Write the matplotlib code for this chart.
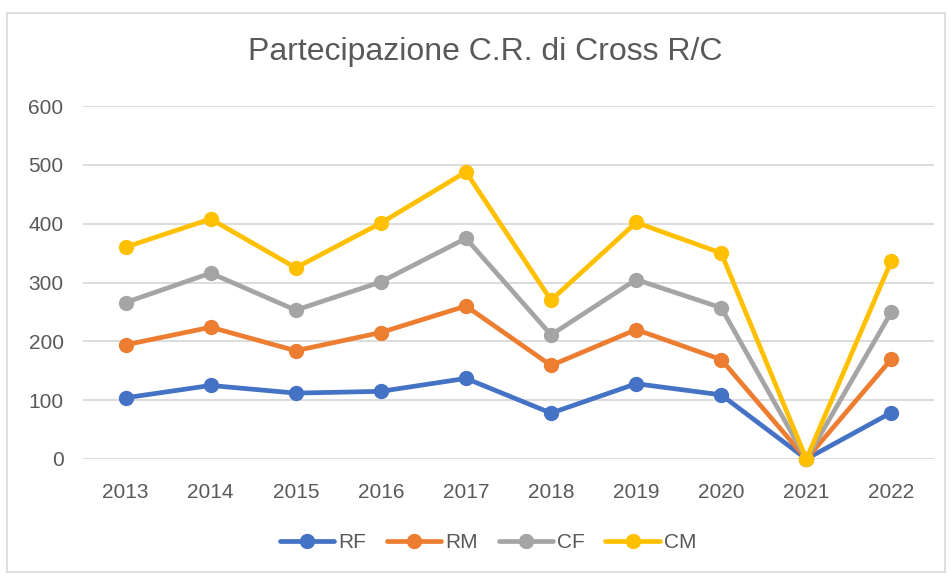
import matplotlib
matplotlib.use("Agg")
import matplotlib.pyplot as plt
from matplotlib.patches import Rectangle

years = ["2013", "2014", "2015", "2016", "2017", "2018", "2019", "2020", "2021", "2022"]
rf = [104, 125, 112, 115, 137, 78, 128, 109, 0, 79]
rm = [194, 224, 184, 215, 260, 159, 220, 169, 0, 170]
cf = [266, 316, 253, 301, 375, 211, 305, 257, 0, 250]
cm = [360, 408, 325, 401, 488, 270, 402, 350, 0, 337]
series_names = ["RF", "RM", "CF", "CM"]
colors = ["#4472C4", "#ED7D31", "#A5A5A5", "#FFC000"]
title = "Partecipazione C.R. di Cross R/C"

plt.rcParams["font.family"] = ["Liberation Sans", "DejaVu Sans"]

fig = plt.figure(figsize=(9.51, 5.79), dpi=100)
fig.patches.append(Rectangle((7/951, 1-572/579), 938/951, 559/579, transform=fig.transFigure,
                             fill=False, edgecolor="#D9D9D9", linewidth=1.2))
ax = fig.add_axes([83/951, 1-459/579, (934-83)/951, (459-106)/579])
x = list(range(len(years)))
for vals, name, c in zip([rf, rm, cf, cm], series_names, colors):
    ax.plot(x, vals, color=c, linewidth=3.4, marker="o", markersize=10, label=name,
            solid_joinstyle="round", solid_capstyle="round", clip_on=False)
ax.set_xlim(-0.5, len(years) - 0.5)
ax.set_ylim(0, 600)
ax.set_yticks(range(0, 601, 100))
ax.set_xticks(x)
ax.set_xticklabels(years)
ax.grid(axis="y", color="#D9D9D9", linewidth=1.3)
ax.set_axisbelow(True)
for s in ax.spines.values():
    s.set_visible(False)
ax.tick_params(length=0, labelsize=15, labelcolor="#595959")
ax.tick_params(axis="x", pad=17)
ax.tick_params(axis="y", pad=14)
fig.text(485/951, 1-52/579, title, ha="center", va="center", fontsize=23, color="#595959")
leg = fig.legend(loc="center", bbox_to_anchor=(488/951, 1-543/579), ncol=4, frameon=False,
                 fontsize=15, handlelength=2.6, columnspacing=1.0, handletextpad=0.2)
for t in leg.get_texts():
    t.set_color("#595959")
fig.savefig("out.png", dpi=100)
